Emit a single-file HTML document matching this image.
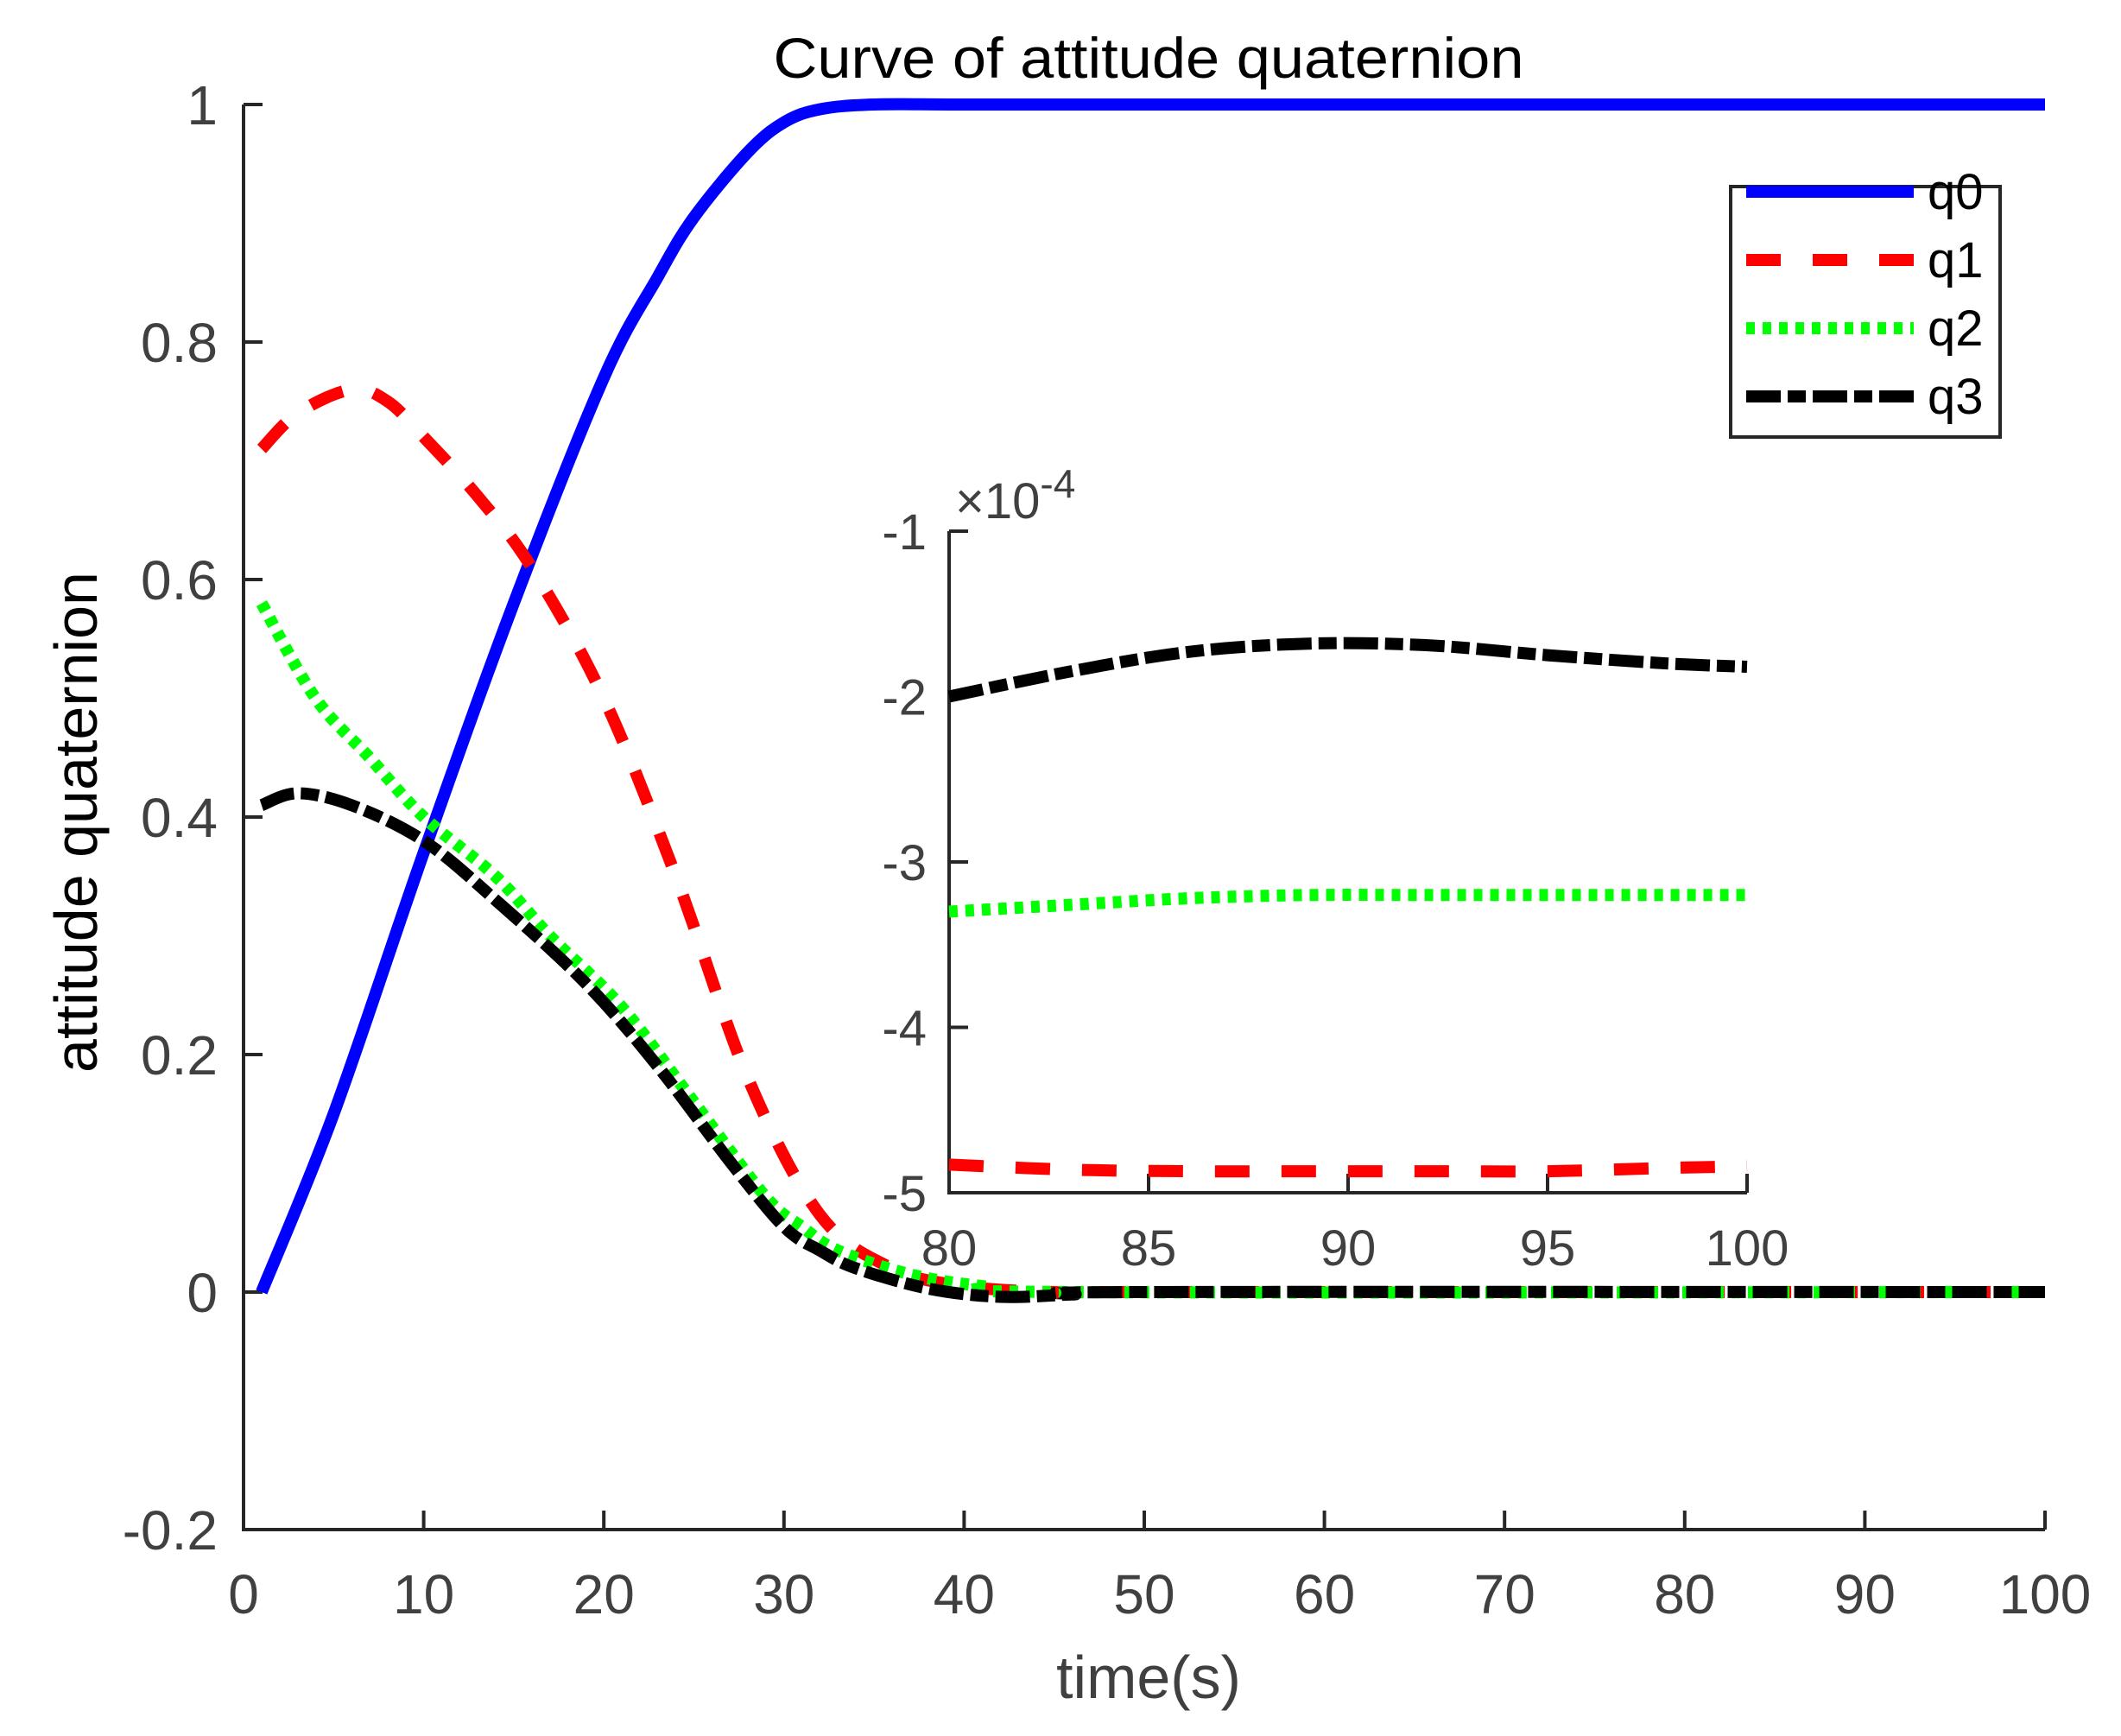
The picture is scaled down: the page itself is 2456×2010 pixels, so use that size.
<!DOCTYPE html>
<html><head><meta charset="utf-8"><style>
html,body{margin:0;padding:0;background:#fff;}
svg{display:block;font-family:"Liberation Sans",sans-serif;}
</style></head><body>
<svg id="chart" width="2456" height="2010" viewBox="0 0 2456 2010" xmlns="http://www.w3.org/2000/svg">
<rect width="2456" height="2010" fill="#fff"/>
<text x="1330" y="90" font-size="66" text-anchor="middle" fill="#000" textLength="869" lengthAdjust="spacingAndGlyphs">Curve of attitude quaternion</text>
<text x="1330" y="1966" font-size="70" text-anchor="middle" fill="#404040">time(s)</text>
<text transform="translate(112,952) rotate(-90)" font-size="70" text-anchor="middle" fill="#000">attitude quaternion</text>
<g id="main"></g>
<g id="inset"></g>
<g id="legend"></g>
</svg>
<script>
// main chart data
const tTimes = [1,5,10,15,20,23,25,28,30,32,35,40,50,60,80,100];
const q0Vals = [0,0.15,0.37,0.58,0.77,0.855,0.905,0.96,0.985,0.996,1,1,1,1,1,1];
const q1Times = [1,3,6,8,10,13,16,20,24,28,32,36,40,45,50,100];
const q1Vals = [0.71,0.74,0.76,0.75,0.72,0.67,0.61,0.5,0.35,0.18,0.065,0.02,0.005,0,0,0];
const q2Times = [1,4,7,10,14,17,21,25,29,31,33,37,41,46,100];
const q2Vals = [0.58,0.5,0.45,0.4,0.35,0.3,0.24,0.16,0.08,0.055,0.035,0.015,0.005,0,0];
const q3Times = [1,3,6,10,14,19,23,27,30,32,34,38,42,46,50,100];
const q3Vals = [0.41,0.42,0.41,0.38,0.33,0.26,0.19,0.11,0.055,0.035,0.02,0.003,-0.004,-0.002,0,0];
const xTicks = [0,10,20,30,40,50,60,70,80,90,100];
const yTicks = [-0.2,0,0.2,0.4,0.6,0.8,1];
const yTickLabels = ["-0.2","0","0.2","0.4","0.6","0.8","1"];
// inset data (x1e-4)
const iTimes = [80,83,86,89,92,95,98,100];
const iq1Vals = [-4.83,-4.86,-4.87,-4.87,-4.87,-4.87,-4.85,-4.84];
const iq2Vals = [-3.3,-3.26,-3.22,-3.2,-3.2,-3.2,-3.2,-3.2];
const iq3Vals = [-2.0,-1.85,-1.73,-1.68,-1.69,-1.75,-1.8,-1.82];
const ixTicks = [80,85,90,95,100];
const iyTicks = [-5,-4,-3,-2,-1];

const NS="http://www.w3.org/2000/svg";
function mk(tag,attrs,parent){const e=document.createElementNS(NS,tag);for(const k in attrs)e.setAttribute(k,attrs[k]);parent.appendChild(e);return e;}
const styles={
 q0:{stroke:"#0000ff",dash:"none"},
 q1:{stroke:"#ff0000",dash:"40 37"},
 q2:{stroke:"#00ff00",dash:"10 9"},
 q3:{stroke:"#000000",dash:"40 8 21 8"}
};
function axes(g,L,T,R,B,xmin,xmax,ymin,ymax,xt,yt,ytl,fs,xoff,yoff,nameP){
 const sx=v=>L+(v-xmin)/(xmax-xmin)*(R-L);
 const sy=v=>B-(v-ymin)/(ymax-ymin)*(B-T);
 const ax=mk("path",{d:`M${L},${T}V${B}H${R}`,fill:"none",stroke:"#262626","stroke-width":4},g);
 
 
 xt.forEach(v=>{
  const t=mk("line",{x1:sx(v),x2:sx(v),y1:B,y2:B-22,stroke:"#262626","stroke-width":4},g);
  
  
  const l=mk("text",{x:sx(v),y:B+xoff,"font-size":fs,"text-anchor":"middle",fill:"#404040"},g);
  l.textContent=v;
  
  
 });
 yt.forEach((v,i)=>{
  const t=mk("line",{x1:L,x2:L+22,y1:sy(v),y2:sy(v),stroke:"#262626","stroke-width":4},g);
  
  
  const l=mk("text",{x:L-yoff,y:sy(v)+fs*0.36,"font-size":fs,"text-anchor":"end",fill:"#404040"},g);
  l.textContent=ytl?ytl[i]:v;
  
  
 });
 return {sx,sy};
}
function line(g,xs,ys,sc,key,name){
 const P=xs.map((x,i)=>[sc.sx(x),sc.sy(ys[i])]);
 let d="M"+P[0][0].toFixed(1)+","+P[0][1].toFixed(1);
 for(let i=0;i<P.length-1;i++){
  const p0=P[Math.max(0,i-1)],p1=P[i],p2=P[i+1],p3=P[Math.min(P.length-1,i+2)];
  const c1=[p1[0]+(p2[0]-p0[0])/6,p1[1]+(p2[1]-p0[1])/6];
  const c2=[p2[0]-(p3[0]-p1[0])/6,p2[1]-(p3[1]-p1[1])/6];
  d+="C"+c1.map(v=>v.toFixed(1)).join(",")+" "+c2.map(v=>v.toFixed(1)).join(",")+" "+p2.map(v=>v.toFixed(1)).join(",");
 }
 const s=styles[key];
 const p=mk("path",{d:d,fill:"none",stroke:s.stroke,"stroke-width":14,"stroke-dasharray":s.dash,"stroke-linejoin":"round"},g);
 
 
}
const gm=document.getElementById("main");
const m=axes(gm,282,121,2368,1771,0,100,-0.2,1,xTicks,yTicks,yTickLabels,64,97,30,"");
line(gm,tTimes,q0Vals,m,"q0","q0-line");
line(gm,q1Times,q1Vals,m,"q1","q1-line");
line(gm,q2Times,q2Vals,m,"q2","q2-line");
line(gm,q3Times,q3Vals,m,"q3","q3-line");

const gi=document.getElementById("inset");
const bg=mk("rect",{x:1099,y:615,width:924,height:766,fill:"#fff"},gi);


const s=axes(gi,1099,615,2023,1381,80,100,-5,-1,ixTicks,iyTicks,null,58,84,26,"inset-");
line(gi,iTimes,iq1Vals,s,"q1","inset-q1-line");
line(gi,iTimes,iq2Vals,s,"q2","inset-q2-line");
line(gi,iTimes,iq3Vals,s,"q3","inset-q3-line");
const ex=mk("text",{x:1106,y:600,"font-size":58,fill:"#404040"},gi);


ex.innerHTML='×10<tspan dy="-24" font-size="46">-4</tspan>';

const gl=document.getElementById("legend");
const box=mk("rect",{x:2004,y:216,width:312,height:290,fill:"#fff",stroke:"#262626","stroke-width":4},gl);


const legKeys=["q0","q1","q2","q3"];
const legY=[222,301,380,459];
legKeys.forEach((k,i)=>{
 const l=mk("line",{x1:2022,x2:2216,y1:legY[i],y2:legY[i],stroke:styles[k].stroke,"stroke-width":14,"stroke-dasharray":styles[k].dash},gl);
 
 
 const t=mk("text",{x:2232,y:legY[i]+20,"font-size":58,fill:"#000"},gl);
 t.textContent=k;
 
 
});
</script>
</body></html>
